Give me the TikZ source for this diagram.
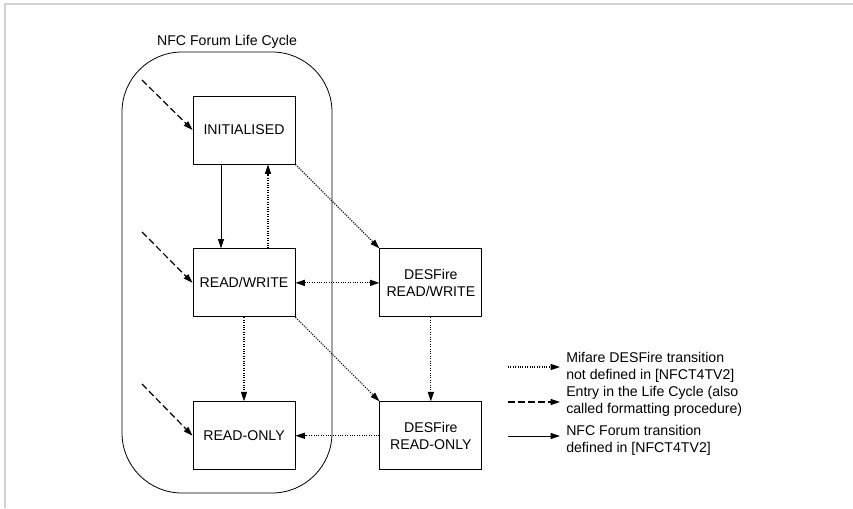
\documentclass[tikz,border=0pt]{standalone}
\usepackage{fontspec}
\setmainfont{Liberation Sans}
\usetikzlibrary{positioning,arrows.meta}

\tikzset{
  stage/.style = {draw, line width=0.65pt, minimum width=76.5pt, minimum height=51pt, align=center, inner sep=2pt},
  nfc/.style = {-{Triangle[length=7pt,width=4.5pt]}, line width=0.7pt},
  desfire/.style = {nfc, line width=0.8pt, dash pattern=on 0.8pt off 1pt},
  entry/.style = {nfc, line width=0.9pt, dash pattern=on 5pt off 2.5pt},
  keytext/.style = {anchor=west, align=left, inner sep=3pt},
}

\begin{document}
\begin{tikzpicture}[x=0.75pt, y=-0.75pt, node distance=63pt, font=\fontsize{10.6}{12.8}\selectfont]
    \useasboundingbox (0,0) rectangle (853,508);
    \draw[gray!35, line width=1.5pt] (5,508) -- (5,4) -- (853,4);

    % life cycle frame
    \node (lifecycle) [draw, line width=0.6pt, rounded corners=45pt, minimum width=157.5pt, minimum height=330.75pt,
        label={[inner sep=2pt]above:NFC Forum Life Cycle}] at (227,272.5) {};

    \node (init) [stage] at (244,130) {INITIALISED};
    \node (rw) [stage, below=of init] {READ/WRITE};
    \node (ro) [stage, below=of rw] {READ-ONLY};
    \node (drw) [stage, right=of rw] {DESFire\\READ/WRITE};
    \node (dro) [stage, below=of drw] {DESFire\\READ-ONLY};

    % entries
    \coordinate (e1) at (142,80);
    \coordinate (e2) at (142,232);
    \coordinate (e3) at (142,384);
    \draw[entry] (e1) -- (init.west);
    \draw[entry] (e2) -- (rw.west);
    \draw[entry] (e3) -- (ro.west);

    \draw[nfc] ([xshift=-17.25pt]init.south) -- ([xshift=-17.25pt]rw.north);
    \draw[desfire] ([xshift=18pt]rw.north) -- ([xshift=18pt]init.south);
    \draw[desfire] (init.south east) -- (drw.north west);
    \draw[desfire, {Triangle[length=7pt,width=4.5pt]}-{Triangle[length=7pt,width=4.5pt]}] (rw) -- (drw);
    \draw[desfire] (rw) -- (ro);
    \draw[desfire] (rw.south east) -- (dro.north west);
    \draw[desfire] (drw) -- (dro);
    \draw[desfire] (dro) -- (ro);

    % legend
    \coordinate (k1a) at (508,367);
    \coordinate (k1b) at (560,367);
    \coordinate (k2a) at (508,402);
    \coordinate (k2b) at (560,402);
    \coordinate (k3a) at (508,436);
    \coordinate (k3b) at (560,436);
    \draw[desfire] (k1a) -- (k1b);
    \draw[entry] (k2a) -- (k2b);
    \draw[nfc] (k3a) -- (k3b);
    \node (k1) [keytext] at (562,367) {Mifare DESFire transition\\not defined in [NFCT4TV2]};
    \node (k2) [keytext] at (562,401) {Entry in the Life Cycle (also\\called formatting procedure)};
    \node (k3) [keytext] at (562,440) {NFC Forum transition\\defined in [NFCT4TV2]};
\end{tikzpicture}
\end{document}
